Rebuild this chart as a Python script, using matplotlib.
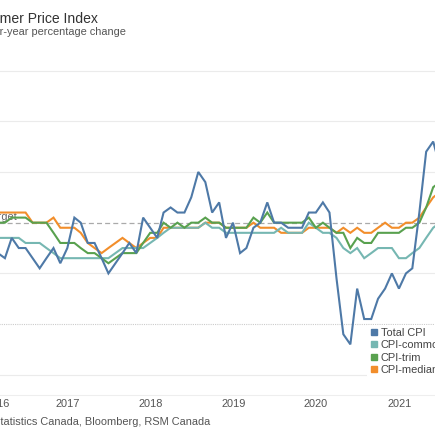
import numpy as np
import pandas as pd
import matplotlib
matplotlib.use("Agg")
from matplotlib import pyplot as plt
from matplotlib.lines import Line2D
from matplotlib import transforms

plt.rcParams['font.family'] = ['Liberation Sans', 'DejaVu Sans']

# monthly data, Jan 2016 - Jun 2021 (y/y % change)
dates = pd.date_range('2016-01-31', periods=66, freq='ME')

total_cpi = [2.0, 1.4, 1.3, 1.7, 1.5, 1.5, 1.3, 1.1, 1.3, 1.5, 1.2, 1.5,
             2.1, 2.0, 1.6, 1.6, 1.3, 1.0, 1.2, 1.4, 1.6, 1.4, 2.1, 1.9,
             1.7, 2.2, 2.3, 2.2, 2.2, 2.5, 3.0, 2.8, 2.2, 2.4, 1.7, 2.0,
             1.4, 1.5, 1.9, 2.0, 2.4, 2.0, 2.0, 1.9, 1.9, 1.9, 2.2, 2.2,
             2.4, 2.2, 0.9, -0.2, -0.4, 0.7, 0.1, 0.1, 0.5, 0.7, 1.0, 0.7,
             1.0, 1.1, 2.2, 3.4, 3.6, 3.1]

cpi_common = [1.7, 1.7, 1.7, 1.7, 1.7, 1.6, 1.6, 1.6, 1.5, 1.4, 1.3, 1.3,
              1.3, 1.3, 1.3, 1.3, 1.3, 1.3, 1.4, 1.5, 1.5, 1.5, 1.5, 1.6,
              1.7, 1.8, 1.9, 1.9, 1.9, 1.9, 1.9, 2.0, 1.9, 1.9, 1.8, 1.8,
              1.8, 1.8, 1.8, 1.8, 1.8, 1.8, 1.9, 1.8, 1.8, 1.8, 2.0, 1.9,
              1.8, 1.8, 1.7, 1.5, 1.4, 1.5, 1.3, 1.4, 1.5, 1.5, 1.5, 1.3,
              1.3, 1.4, 1.5, 1.7, 1.9, 2.0]

cpi_trim = [2.0, 2.0, 2.0, 2.1, 2.1, 2.1, 2.0, 2.0, 2.0, 1.8, 1.6, 1.6,
            1.6, 1.5, 1.4, 1.4, 1.3, 1.2, 1.3, 1.4, 1.4, 1.4, 1.6, 1.8,
            1.8, 2.0, 1.9, 2.0, 1.9, 2.0, 2.0, 2.1, 2.0, 2.0, 1.9, 1.9,
            1.9, 1.9, 2.1, 2.0, 2.2, 2.0, 2.0, 2.0, 2.0, 2.0, 2.1, 1.9,
            2.0, 1.9, 1.8, 1.8, 1.5, 1.7, 1.6, 1.6, 1.8, 1.8, 1.8, 1.8,
            1.9, 1.9, 2.0, 2.3, 2.7, 2.8]

cpi_median = [2.2, 2.2, 2.2, 2.2, 2.2, 2.2, 2.0, 2.0, 2.0, 2.1, 1.9, 1.9,
              1.9, 1.8, 1.6, 1.5, 1.4, 1.5, 1.6, 1.7, 1.6, 1.5, 1.6, 1.7,
              1.7, 1.9, 1.9, 1.9, 1.9, 1.9, 1.9, 2.0, 2.0, 2.0, 1.9, 1.9,
              1.9, 1.9, 2.0, 1.9, 1.9, 1.9, 1.8, 1.8, 1.8, 1.8, 1.9, 1.9,
              1.9, 1.9, 1.8, 1.9, 1.8, 1.9, 1.8, 1.8, 1.9, 2.0, 1.9, 1.9,
              2.0, 2.0, 2.1, 2.3, 2.5, 2.6]

series_names = ['Total CPI', 'CPI-common', 'CPI-trim', 'CPI-median']
colors = ['#4e79a7', '#76b7b2', '#59a14f', '#f28e2b']
years = ['2016', '2017', '2018', '2019', '2020', '2021']
target = 2.0

W = 435
fig = plt.figure(figsize=(4.351, 4.351), dpi=100)
# plot area runs past the picture edges (the chart is cropped)
ax = fig.add_axes([-15.5 / W, 39.9 / W, 469.7 / W, 334.6 / W])

ax.set_xlim(pd.Timestamp('2016-01-01'), pd.Timestamp('2021-09-01'))
ax.set_ylim(-1.4, 5.2)

# grid
yt = [-1, 0, 1, 2, 3, 4, 5]
ax.set_yticks(yt)
ax.set_yticklabels([f'{v}%' for v in yt], color='#666666', fontsize=7.9)
ax.yaxis.grid(True, color='#ebebeb', lw=0.8)
for v, gl in zip(yt, ax.get_ygridlines()):
    if v == 0:
        gl.set_linestyle((0, (1, 1)))
        gl.set_color('#cccccc')
    if v == target:
        gl.set_visible(False)
ax.tick_params(axis='both', length=0)
for s in ['top', 'right', 'left']:
    ax.spines[s].set_visible(False)
ax.spines['bottom'].set_color('#eeeeee')
ax.spines['bottom'].set_linewidth(0.8)
ax.set_axisbelow(True)

ax.axhline(target, color='#aaaaaa', lw=0.9, ls=(0, (4, 2.5)), zorder=1)
ax.annotate('Target', xy=(pd.Timestamp('2016-01-01'), target), xytext=(1.8, 1.8),
            textcoords='offset points', ha='left', va='baseline',
            color='#666666', fontsize=7.9, zorder=1)

data = [total_cpi, cpi_common, cpi_trim, cpi_median]
zord = [6, 3, 4, 2]
for vals, c, z in zip(data, colors, zord):
    ax.plot(dates, vals, color=c, lw=1.5, zorder=z, solid_joinstyle='miter')

# year labels
xt = [pd.Timestamp(f'{y}-01-01') for y in years]
ax.set_xticks(xt)
ax.set_xticklabels(years, color='#555555', fontsize=7.9)
ax.tick_params(axis='x', pad=2.5)
first = ax.get_xticklabels()[0]
first.set_horizontalalignment('left')
first.set_transform(first.get_transform() +
                    transforms.ScaledTranslation(1.5 / 100, 0, fig.dpi_scale_trans))

handles = [Line2D([], [], marker='s', ls='none', color=c, markersize=4.4) for c in colors]
leg = ax.legend(handles, series_names, loc='upper left',
                bbox_to_anchor=(367 / W, (W - 325) / W), bbox_transform=fig.transFigure,
                frameon=True, fontsize=7.9, handlelength=0.75, handletextpad=0.25,
                labelspacing=0.22, borderpad=0.25, borderaxespad=0)
leg.get_frame().set_facecolor('white')
leg.get_frame().set_edgecolor('none')
leg.get_frame().set_alpha(1)
leg.set_zorder(10)
for t in leg.get_texts():
    t.set_color('#444444')

fig.text(-41 / W, (W - 23) / W, 'Consumer Price Index', fontsize=10.1,
         color='#333333', va='baseline', ha='left')
fig.text(-44 / W, (W - 35) / W, 'Year-over-year percentage change', fontsize=7.9,
         color='#555555', va='baseline', ha='left')
fig.text(-48 / W, (W - 425) / W, 'Source: Statistics Canada, Bloomberg, RSM Canada',
         fontsize=7.9, color='#555555', va='baseline', ha='left')

fig.savefig('out.png', dpi=100)
